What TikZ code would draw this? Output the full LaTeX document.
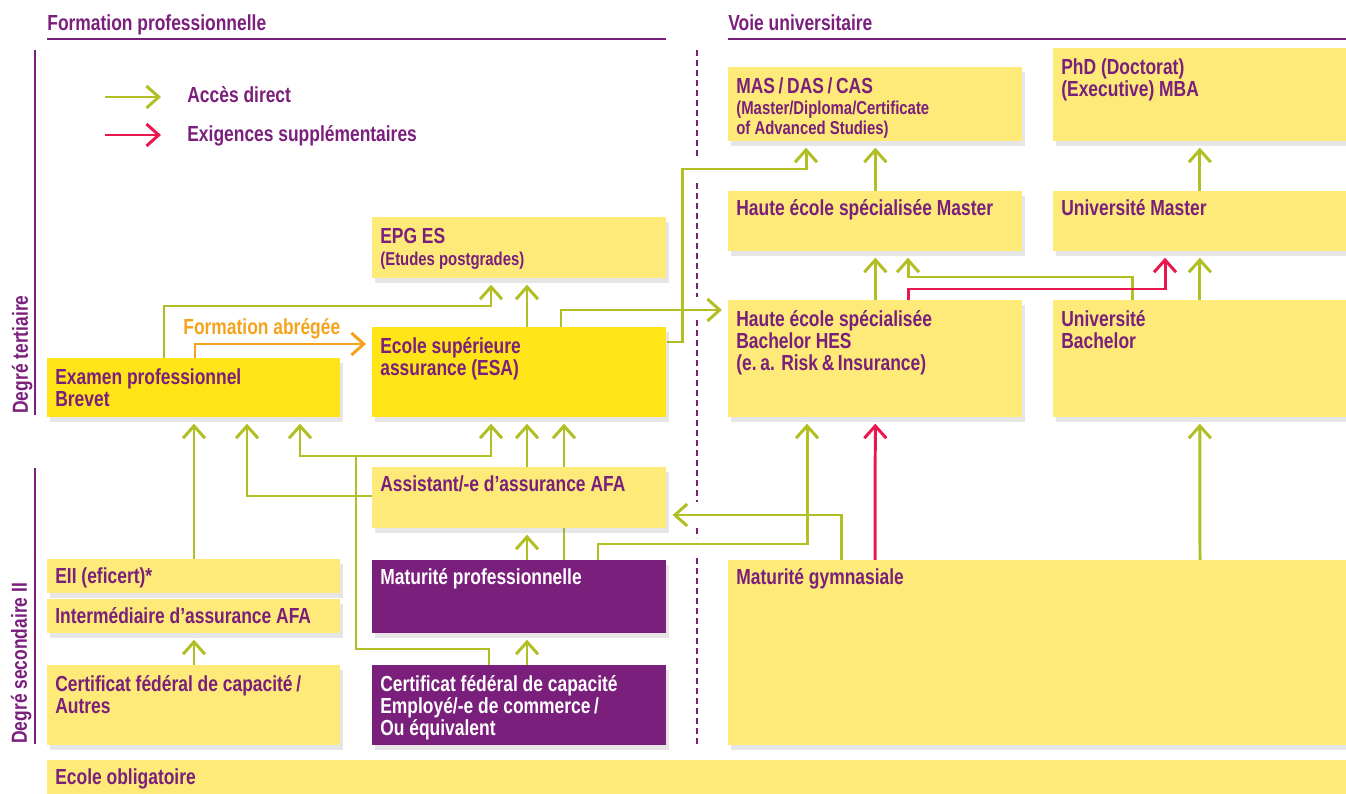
\documentclass[tikz,border=0pt]{standalone}
\usepackage{fontspec}
\setmainfont{Liberation Sans}[FakeStretch=0.8]
\usetikzlibrary{arrows.meta, calc, shadows, backgrounds}

\definecolor{vlila}{HTML}{7A1F7B}
\definecolor{vgruen}{HTML}{B1BE24}
\definecolor{vrot}{HTML}{E8184E}
\definecolor{vorange}{HTML}{F5A31C}
\definecolor{hellgelb}{HTML}{FEEA78}
\definecolor{sattgelb}{HTML}{FFE418}

\newcommand{\grosstext}{\fontsize{12.4}{12.5}\selectfont\bfseries}
\newcommand{\kleintext}{\fontsize{10.6}{11.4}\selectfont\bfseries}

\begin{document}
\begin{tikzpicture}[
    x=0.02cm, y=-0.02cm,
    box/.style={anchor=north west, fill=hellgelb, inner sep=0pt,
        drop shadow={shadow xshift=0.05cm, shadow yshift=-0.1cm, opacity=0.2}},
    hotbox/.style={box, fill=sattgelb},
    darkbox/.style={box, fill=vlila},
    lab/.style={anchor=north west, inner sep=0pt, align=left, text=vlila, font=\grosstext,
        xshift=0.16cm, yshift=-2pt, execute at begin node={\rule{0pt}{12pt}}},
    mlab/.style={lab, yshift=-4pt},
    darklab/.style={lab, text=white},
    mdarklab/.style={mlab, text=white},
    acc/.style={draw=vgruen, line width=1.7pt, line join=miter, shorten >=0.12cm,
        -{Straight Barb[length=7pt, width=12.5pt]}},
    req/.style={acc, draw=vrot},
    abr/.style={acc, draw=vorange},
    rubrik/.style={draw=vlila, line width=1.1pt},
    trenner/.style={draw=vlila, line width=1.1pt, dash pattern=on 0.12cm off 0.08cm},
    titel/.style={anchor=base west, inner sep=0pt, text=vlila, font=\grosstext}
]
\useasboundingbox (0,0) rectangle (1346,794);

% Headers
\node[titel] (fp) at (47,31) {Formation professionnelle};
\node[titel] (vu) at (728,31) {Voie universitaire};
\draw[rubrik] (47,39) -- (666,39);
\draw[rubrik] (728,39) -- (1346,39);

% Levels
\draw[rubrik] (35,50) -- (35,415);
\draw[rubrik] (35,468) -- (35,744);
\node[titel, rotate=90] (tert) at (28,414) {Degré tertiaire};
\node[titel, rotate=90] (sec) at (27,744) {Degré secondaire II};

% Divider
\draw[trenner] (697,50) -- (697,157);
\draw[trenner] (697,183) -- (697,297);
\draw[trenner] (697,320) -- (697,502);
\draw[trenner] (697,528) -- (697,538);
\draw[trenner] (697,558) -- (697,745);

% Legend
\coordinate (la1) at (105,97);
\coordinate (lb1) at (105,135);
\draw[acc, shorten >=0pt] (la1) -- ++(56,0);
\draw[req, shorten >=0pt] (lb1) -- ++(56,0);
\node[titel] (lta) at (187,103) {Accès direct};
\node[titel] (ltb) at (187,142) {Exigences supplémentaires};

% Voie universitaire
\node[box, minimum width=5.88cm, minimum height=1.48cm,
    label={[mlab]north west:{MAS\,/\,DAS\,/\,CAS\\[-0.5pt]{\kleintext(Master/Diploma/Certificate}\\[-1pt]{\kleintext of Advanced Studies)}}}] (mas) at (728,67) {};
\node[box, minimum width=5.86cm, minimum height=1.86cm,
    label={[mlab]north west:{PhD (Doctorat)\\(Executive) MBA}}] (phd) at (1053,48) {};
\node[box, minimum width=5.88cm, minimum height=1.20cm,
    label={[lab]north west:{Haute école spécialisée Master}}] (hesma) at (728,191) {};
\node[box, minimum width=5.86cm, minimum height=1.20cm,
    label={[lab]north west:{Université Master}}] (unima) at (1053,191) {};
\node[box, minimum width=5.88cm, minimum height=2.34cm,
    label={[mlab]north west:{Haute école spécialisée\\Bachelor HES\\(e.\,a. Risk\,\&\,Insurance)}}] (hesba) at (728,300) {};
\node[box, minimum width=5.86cm, minimum height=2.34cm,
    label={[mlab]north west:{Université\\Bachelor}}] (uniba) at (1053,300) {};
\node[box, minimum width=12.36cm, minimum height=3.70cm,
    label={[lab]north west:{Maturité gymnasiale}}] (matgym) at (728,560) {};

% Formation professionnelle
\node[box, minimum width=5.88cm, minimum height=1.22cm,
    label={[mlab]north west:{EPG ES\\[0.5pt]{\kleintext(Etudes postgrades)}}}] (epg) at (372,217) {};
\node[hotbox, minimum width=5.88cm, minimum height=1.80cm,
    label={[mlab]north west:{Ecole supérieure\\assurance (ESA)}}] (esa) at (372,327) {};
\node[hotbox, minimum width=5.86cm, minimum height=1.18cm,
    label={[mlab]north west:{Examen professionnel\\Brevet}}] (exam) at (47,358) {};
\node[box, minimum width=5.88cm, minimum height=1.22cm,
    label={[lab]north west:{Assistant/-e d’assurance AFA}}] (assist) at (372,467) {};
\node[box, minimum width=5.86cm, minimum height=0.68cm,
    label={[lab]north west:{EII (eficert)*}}] (eii) at (47,559) {};
\node[box, minimum width=5.86cm, minimum height=0.68cm,
    label={[lab]north west:{Intermédiaire d’assurance AFA}}] (inter) at (47,599) {};
\node[darkbox, minimum width=5.88cm, minimum height=1.46cm,
    label={[darklab]north west:{Maturité professionnelle}}] (matpro) at (372,560) {};
\node[box, minimum width=5.86cm, minimum height=1.60cm,
    label={[mlab]north west:{Certificat fédéral de capacité\,/\\Autres}}] (cfcaut) at (47,665) {};
\node[darkbox, minimum width=5.88cm, minimum height=1.60cm,
    label={[mdarklab]north west:{Certificat fédéral de capacité\\Employé/-e de commerce\,/\\Ou équivalent}}] (cfcemp) at (372,665) {};
\node[box, minimum width=25.98cm, minimum height=0.70cm,
    label={[lab]north west:{Ecole obligatoire}}] (ecole) at (47,760) {};

% Connectors
\begin{scope}[on background layer]
\draw[acc] (unima.north) -- (phd.south);
\draw[acc] (hesma.north) -- (mas.south);
\draw[acc] (esa.east |- 0,342) -- (682,342) |- (806,169) -- (mas.south -| 806,0);
\draw[acc] (hesba.north) -- (hesma.south);
\draw[acc] (uniba.north -| 1132,0) |- (908,277) -- (hesma.south -| 908,0);
\draw[req] (hesba.north -| 908,0) |- (1165,289) -- (unima.south -| 1165,0);
\draw[acc] (uniba.north) -- (unima.south);
\draw[acc] (matgym.north -| 1200,0) -- (uniba.south);
\draw[req] (matgym.north -| 875,0) -- (hesba.south);
\draw[acc] (matpro.north -| 598,0) |- (807,544) -- (hesba.south -| 807,0);
\draw[acc] (matgym.north -| 841,0) |- (assist.east |- 0,515);
\draw[acc] (esa.north -| 561,0) |- (hesba.west |- 0,310);
\draw[acc] (esa.north -| 527,0) -- (epg.south -| 527,0);
\draw[acc] (exam.north -| 164,0) |- (491,306) -- (epg.south -| 491,0);
\draw[abr] (exam.north -| 195,0) |- (esa.west |- 0,344);
\draw[acc] (assist.north -| 527,0) -- (esa.south -| 527,0);
\draw[acc] (matpro.north -| 564,0) -- (esa.south -| 564,0);
\coordinate (split) at (356,456);
\draw[acc] (cfcemp.north -| 489,0) |- (356,649) -- (split) -| (exam.south -| 300,0);
\draw[acc] (split) -| (esa.south -| 491,0);
\draw[acc] (assist.west |- 0,496) -| (exam.south -| 247,0);
\draw[acc] (eii.north -| 194,0) -- (exam.south -| 194,0);
\draw[acc] (cfcaut.north -| 194,0) -- (inter.south -| 194,0);
\draw[acc] (cfcemp.north -| 527,0) -- (matpro.south -| 527,0);
\draw[acc] (matpro.north -| 527,0) -- (assist.south -| 527,0);
\end{scope}
\node[anchor=base west, inner sep=0pt, text=vorange, font=\grosstext] (abrlab) at (183,334) {Formation abrégée};

\end{tikzpicture}
\end{document}
